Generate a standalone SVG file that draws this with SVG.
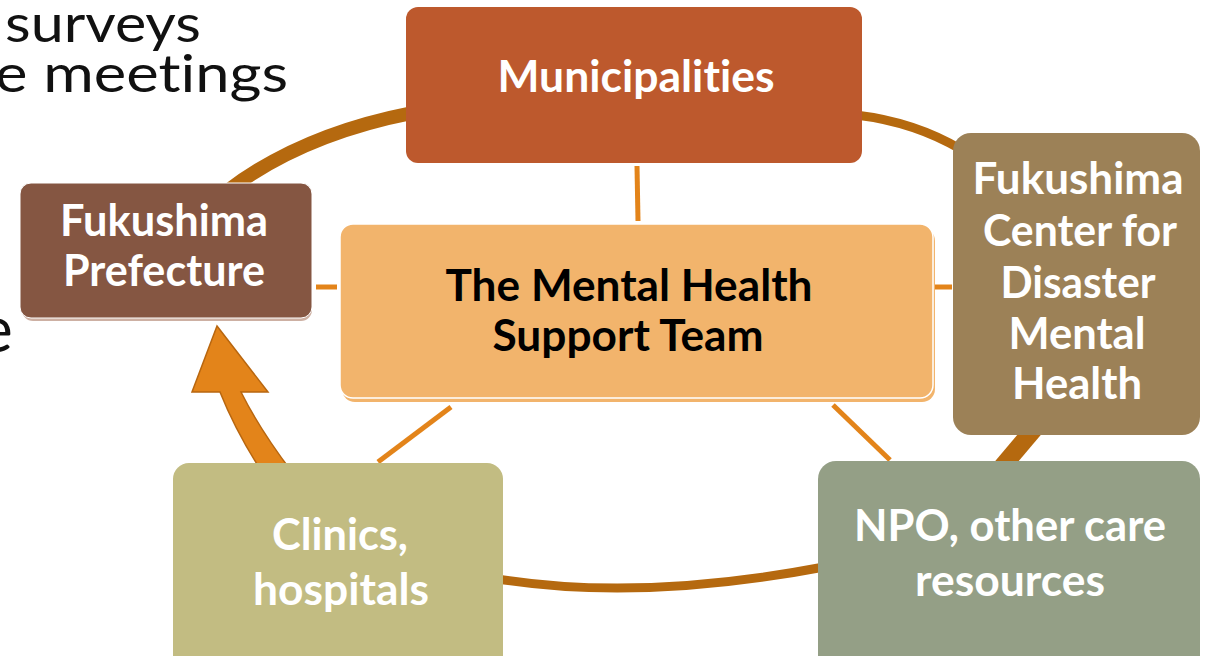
<svg xmlns="http://www.w3.org/2000/svg" width="1214" height="656" viewBox="0 0 1214 656">
  <defs>
    <style>
      .bg-text { font-family: Lato, "Open Sans", "Liberation Sans", sans-serif; font-weight: 400; fill: #111; font-variant-ligatures: none; }
      .label { font-family: Lato, "Open Sans", "Liberation Sans", sans-serif; font-weight: 700; font-size: 44px; text-anchor: middle; fill: #ffffff; font-variant-ligatures: none; }
      .label.dark { fill: #000000; }
      .spoke { stroke: #E3841A; stroke-width: 5; stroke-linecap: butt; fill: none; }
      .ring { stroke: #B5690F; fill: none; stroke-linecap: butt; }
    </style>
    <linearGradient id="ringFade" x1="858" y1="0" x2="960" y2="0" gradientUnits="userSpaceOnUse">
      <stop offset="0" stop-color="#B5690F"/>
      <stop offset="1" stop-color="#E3841A"/>
    </linearGradient>
  </defs>

  <rect width="1214" height="656" fill="#ffffff"/>

  <!-- slide text partly hidden behind the cycle -->
  <g id="slide-text">
    <text class="bg-text" x="5" y="42" font-size="52" textLength="196" lengthAdjust="spacingAndGlyphs">surveys</text>
    <text class="bg-text" x="-5" y="92" font-size="52" textLength="293" lengthAdjust="spacingAndGlyphs">e meetings</text>
    <text class="bg-text" x="-21" y="352" font-size="64">e</text>
  </g>

  <!-- cycle ring and spokes -->
  <g id="connectors">
    <path class="ring" stroke-width="14" d="M 226 192 Q 300 135 412 113"/>
    <path class="ring" stroke-width="9" stroke="url(#ringFade)" d="M 856 115 Q 915 122 962 150"/>
    <path class="ring" stroke-width="18" d="M 1040 422 L 996 474"/>
    <path class="ring" stroke-width="9" d="M 498 579 Q 640 602 824 567"/>
    <!-- arrowhead pointing up to the prefecture -->
    <path d="M 217 326 L 268 392 L 241 392 Q 260 430 292 472 L 262 472 Q 236 432 220 392 L 192 392 Z" fill="#E3841A" stroke="#B8660F" stroke-width="1.5" stroke-linejoin="miter"/>

    <line class="spoke" x1="637" y1="166" x2="638" y2="221"/>
    <line class="spoke" x1="316" y1="287" x2="337" y2="287"/>
    <line class="spoke" x1="935" y1="287" x2="952" y2="287"/>
    <line class="spoke" x1="451" y1="407" x2="378" y2="462"/>
    <line class="spoke" x1="833" y1="405" x2="890" y2="460"/>
  </g>

  <g id="node-municipalities">
    <rect x="406" y="7" width="456" height="156" rx="12" fill="#BD592D"/>
    <text class="label" x="636" y="92" textLength="277" lengthAdjust="spacingAndGlyphs">Municipalities</text>
  </g>

  <g id="node-prefecture">
    <rect x="22" y="186" width="290" height="135" rx="11" fill="#CDB0A3"/>
    <rect x="20" y="183" width="292" height="135" rx="11" fill="#855642" stroke="#ffffff" stroke-width="1"/>
    <text class="label" x="164" y="236" textLength="208" lengthAdjust="spacingAndGlyphs">Fukushima</text>
    <text class="label" x="164" y="286" textLength="202" lengthAdjust="spacingAndGlyphs">Prefecture</text>
  </g>

  <g id="node-support-team">
    <rect x="342" y="228" width="593" height="174" rx="13" fill="#F2B46C"/>
    <rect x="340" y="224" width="593" height="174" rx="13" fill="#F2B46C" stroke="#ffffff" stroke-width="1.5"/>
    <text class="label dark" x="629" y="301" textLength="367" lengthAdjust="spacingAndGlyphs">The Mental Health</text>
    <text class="label dark" x="628" y="351" textLength="271" lengthAdjust="spacingAndGlyphs">Support Team</text>
  </g>

  <g id="node-center">
    <rect x="953" y="133" width="247" height="302" rx="18" fill="#9C8157"/>
    <text class="label" x="1078" y="194" textLength="211" lengthAdjust="spacingAndGlyphs">Fukushima</text>
    <text class="label" x="1080" y="246" textLength="194" lengthAdjust="spacingAndGlyphs">Center for</text>
    <text class="label" x="1078" y="298" textLength="155" lengthAdjust="spacingAndGlyphs">Disaster</text>
    <text class="label" x="1077" y="349" textLength="137" lengthAdjust="spacingAndGlyphs">Mental</text>
    <text class="label" x="1077" y="399" textLength="130" lengthAdjust="spacingAndGlyphs">Health</text>
  </g>

  <g id="node-clinics">
    <rect x="173" y="463" width="330" height="210" rx="16" fill="#C2BC82"/>
    <text class="label" x="340" y="550" textLength="136" lengthAdjust="spacingAndGlyphs">Clinics,</text>
    <text class="label" x="341" y="605" textLength="176" lengthAdjust="spacingAndGlyphs">hospitals</text>
  </g>

  <g id="node-npo">
    <rect x="818" y="461" width="382" height="212" rx="18" fill="#949F86"/>
    <text class="label" x="1010" y="541" textLength="312" lengthAdjust="spacingAndGlyphs">NPO, other care</text>
    <text class="label" x="1010" y="596" textLength="190" lengthAdjust="spacingAndGlyphs">resources</text>
  </g>
</svg>
